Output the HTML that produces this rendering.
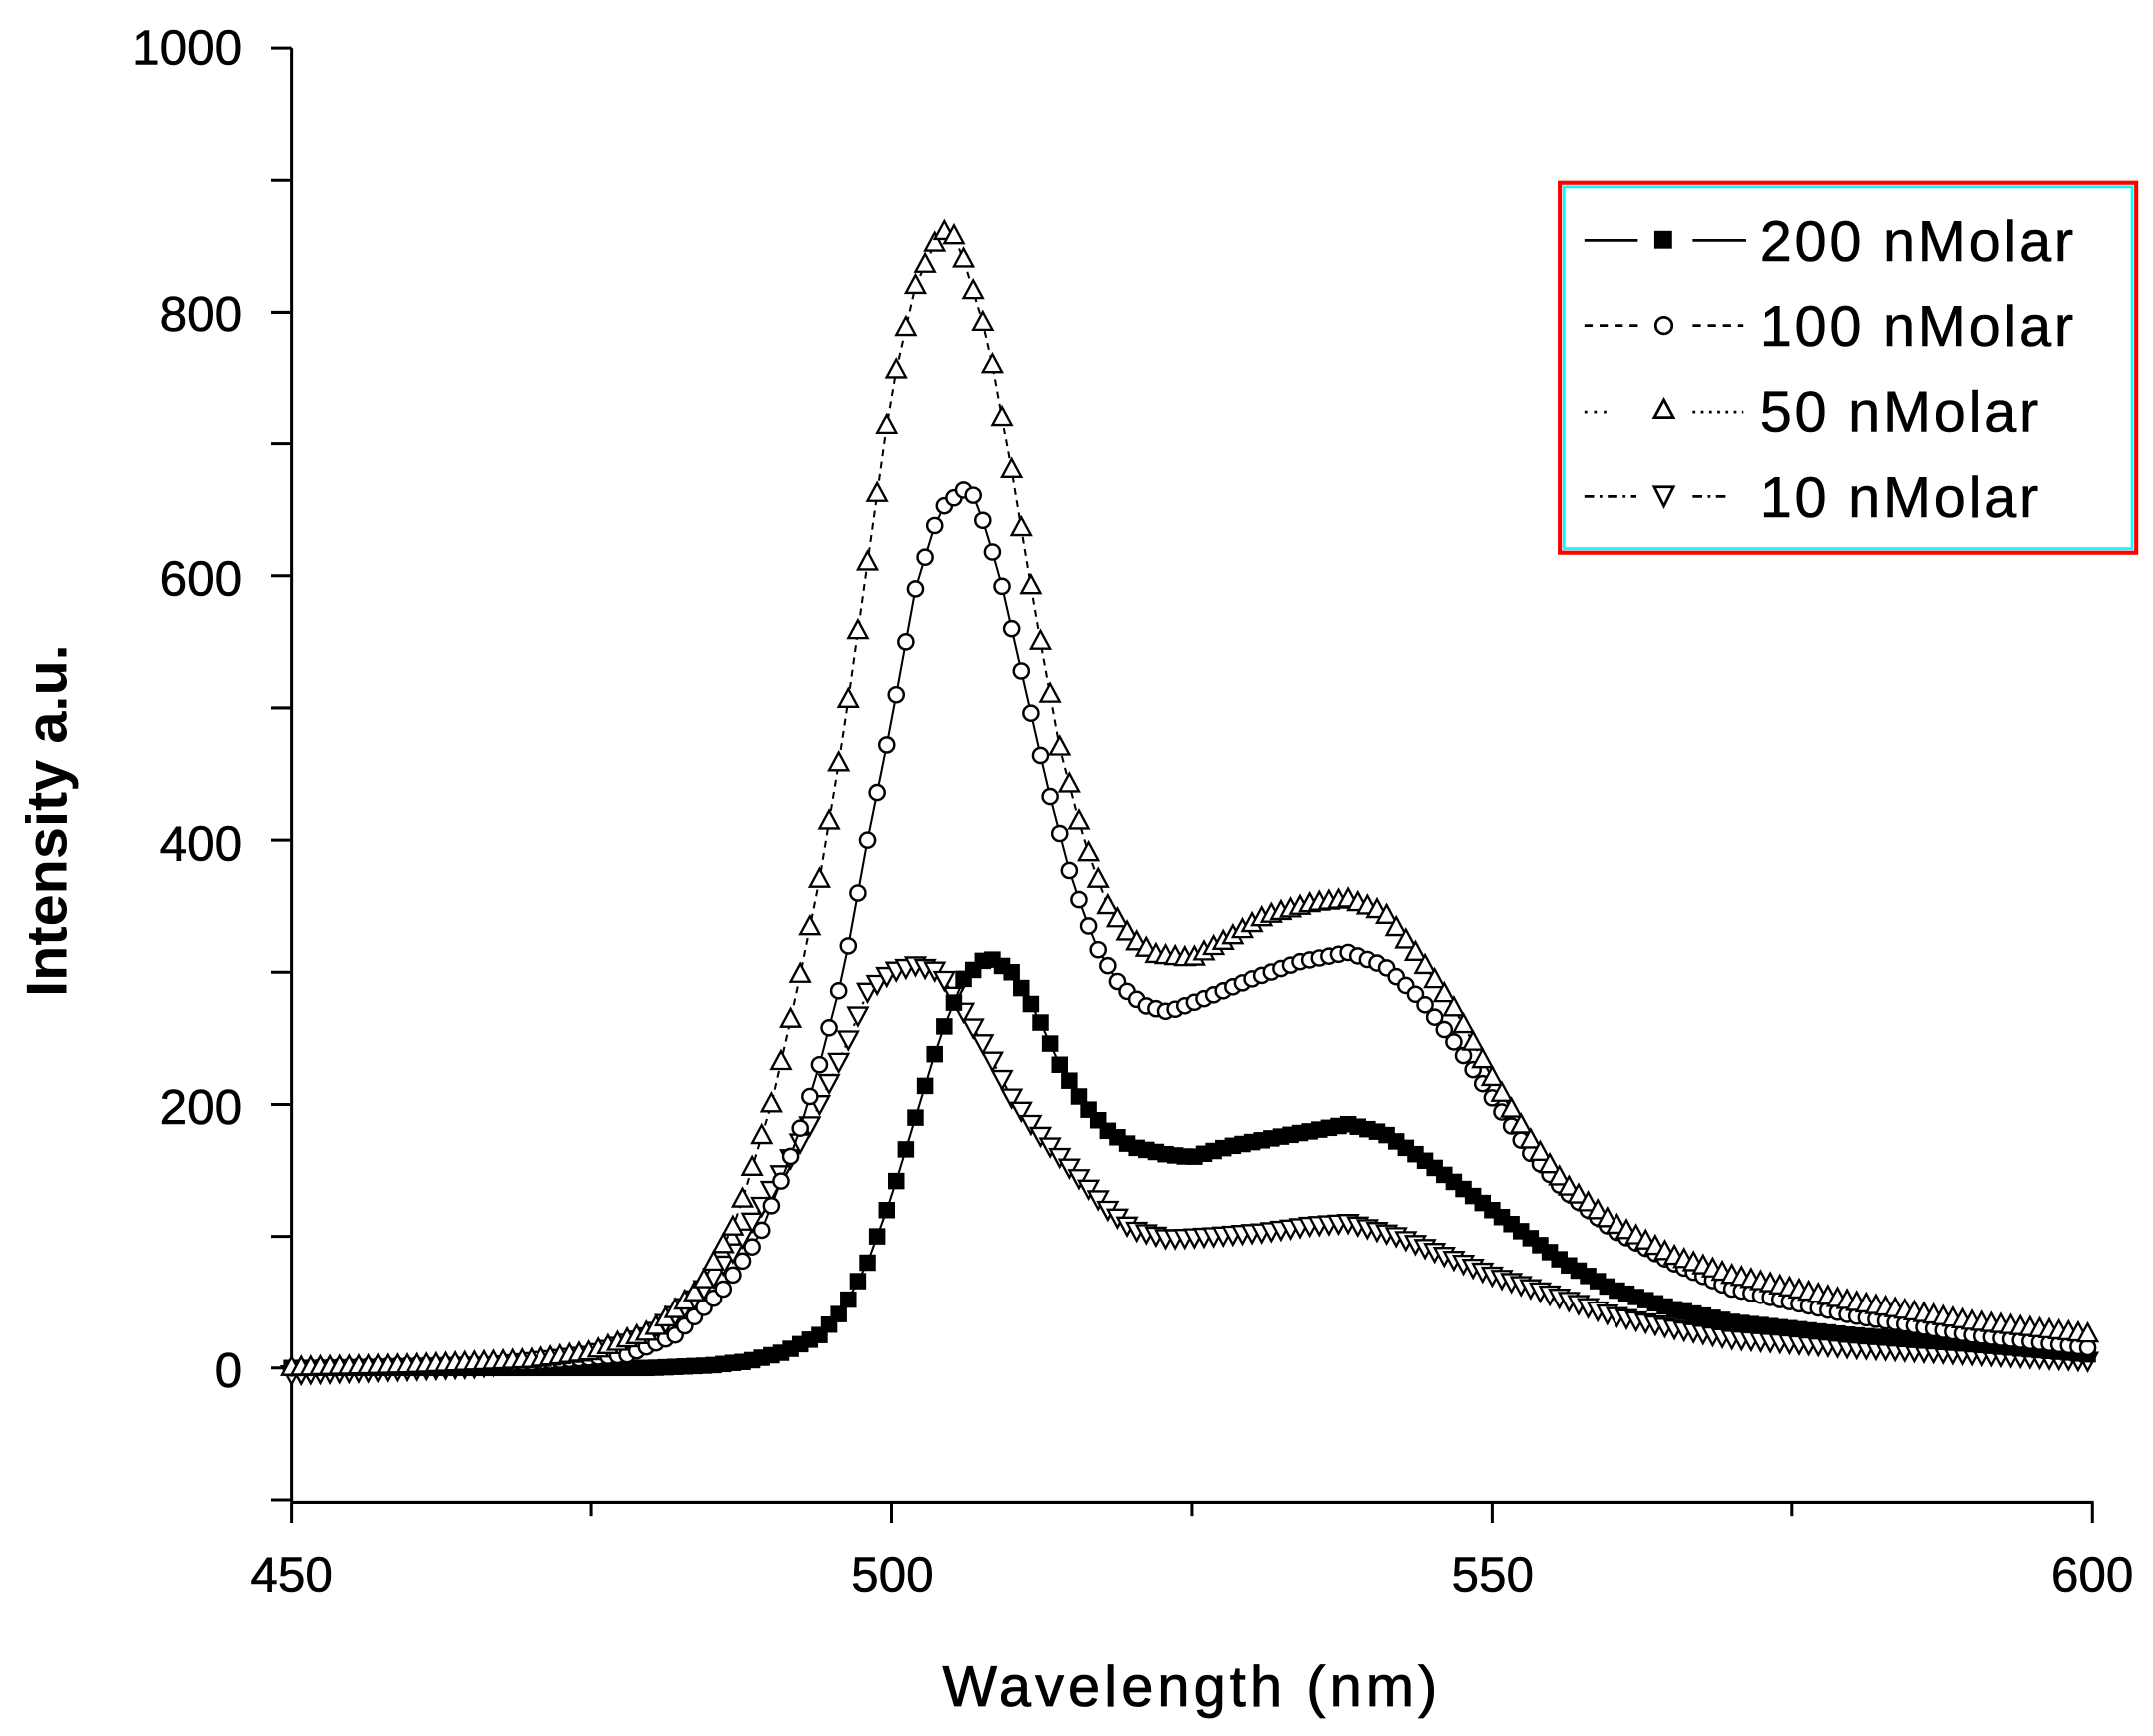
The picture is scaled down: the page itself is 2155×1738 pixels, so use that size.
<!DOCTYPE html>
<html><head><meta charset="utf-8"><style>
html,body{margin:0;padding:0;background:#fff;}
svg{display:block;}
text{font-family:"Liberation Sans",Arial,sans-serif;fill:#000;}
</style></head><body>
<svg id="s" width="2155" height="1738" viewBox="0 0 1568 1265" xmlns="http://www.w3.org/2000/svg">
<rect width="1568" height="1265" fill="#fff"/>
<g stroke="#000" stroke-width="2.2" fill="none">
<line x1="212" y1="35" x2="212" y2="1095"/>
<line x1="212" y1="1095" x2="1525" y2="1095"/>
</g>
<g id="ticks" stroke="#000" stroke-width="2.2"></g>
<g font-size="36" text-anchor="end" stroke="#000" stroke-width="0.4">
<text x="176" y="47">1000</text>
<text x="176" y="241">800</text>
<text x="176" y="434">600</text>
<text x="176" y="627">400</text>
<text x="176" y="819">200</text>
<text x="176" y="1011">0</text>
</g>
<g font-size="36" text-anchor="middle" stroke="#000" stroke-width="0.4">
<text x="212" y="1160">450</text>
<text x="650" y="1160">500</text>
<text x="1087" y="1160">550</text>
<text x="1524" y="1160">600</text>
</g>
<text x="868" y="1243" font-size="42" text-anchor="middle" letter-spacing="3" stroke="#000" stroke-width="0.6">Wavelength (nm)</text>
<text transform="translate(48,598) rotate(-90)" font-size="42" font-weight="bold" text-anchor="middle">Intensity a.u.</text>
<g id="data"></g>
<rect x="1136" y="133" width="420" height="270" fill="#fff" stroke="#f00" stroke-width="3"/>
<rect x="1139" y="136" width="414" height="264" fill="none" stroke="#0ff" stroke-width="2"/>
<g stroke="#000" stroke-width="2" fill="none">
<line x1="1154" y1="175" x2="1193" y2="175"/><line x1="1233" y1="175" x2="1272" y2="175"/>
<line x1="1154" y1="237" x2="1194" y2="237" stroke-dasharray="6,5"/><line x1="1233" y1="237" x2="1270" y2="237" stroke-dasharray="6,5"/>
<line x1="1154" y1="300" x2="1172" y2="300" stroke-dasharray="2,5"/><line x1="1233" y1="300" x2="1270" y2="300" stroke-dasharray="2,4"/>
<line x1="1154" y1="362" x2="1192" y2="362" stroke-dasharray="7,4,2,4"/><line x1="1233" y1="362" x2="1258" y2="362" stroke-dasharray="7,4,2,4"/>
</g>
<rect x="1205" y="168" width="13" height="13" fill="#000"/>
<circle cx="1212" cy="237" r="6" fill="none" stroke="#000" stroke-width="2"/>
<path d="M1212 291 L1219 304 L1205 304 Z" fill="none" stroke="#000" stroke-width="2"/>
<path d="M1205 355 L1219 355 L1212 369 Z" fill="none" stroke="#000" stroke-width="2"/>
<g font-size="42" letter-spacing="2" stroke="#000" stroke-width="0.4">
<text x="1282" y="190">200 nMolar</text>
<text x="1282" y="252">100 nMolar</text>
<text x="1282" y="314">50 nMolar</text>
<text x="1282" y="377">10 nMolar</text>
</g>
</svg>
<script>
function X(w){return 212+(w-450)*8.747;}
function Y(v){return 997-v*0.962;}
var tk=document.getElementById("ticks"),h="";
for(var v=-100;v<=1000;v+=100){h+='<line x1="197" y1="'+Y(v)+'" x2="212" y2="'+Y(v)+'"/>';}
for(var w=450;w<=600;w+=25){h+='<line x1="'+X(w)+'" y1="1095" x2="'+X(w)+'" y2="'+(w%50==0?1110:1105)+'"/>';}
tk.innerHTML=h;
var S50=[[450,0],[460,2],[470,6],[475,12],[480,28],[484,60],[487,110],[490,200],[492,280],[494,370],[496,480],[498,610],[500,740],[502,820],[504,860],[505,862],[506,840],[508,780],[510,680],[512,570],[514,470],[516,400],[518,350],[520,325],[522,313],[525,310],[528,325],[531,342],[535,352],[538,355],[541,345],[544,310],[547,270],[550,220],[553,175],[556,140],[560,110],[565,85],[570,70],[580,50],[590,35],[600,25]];
var S100=[[450,0],[470,4],[478,10],[482,25],[486,60],[489,100],[492,170],[494,230],[496,300],[498,400],[500,490],[502,590],[504,650],[506,665],[507,660],[509,600],[511,520],[513,440],[515,370],[517,320],[519,290],[521,275],[523,270],[526,280],[530,295],[534,308],[538,315],[541,305],[544,280],[547,245],[550,205],[553,165],[556,135],[560,105],[565,80],[570,60],[580,40],[590,25],[600,15]];
var S10=[[450,-5],[465,0],[475,10],[480,25],[484,55],[487,90],[490,135],[493,180],[496,240],[498,285],[500,300],[502,305],[504,300],[506,270],[508,240],[510,205],[512,180],[515,150],[518,120],[520,105],[523,98],[527,100],[531,103],[535,108],[538,110],[542,100],[546,85],[550,70],[555,55],[560,40],[565,30],[570,22],[580,15],[590,10],[600,5]];
var S200=[[450,0],[480,0],[485,2],[488,5],[491,12],[494,25],[496,45],[498,80],[500,130],[502,190],[504,250],[506,295],[508,312],[510,300],[512,270],[514,230],[516,200],[518,180],[520,168],[523,162],[525,160],[528,168],[532,175],[535,180],[538,185],[541,178],[544,160],[547,140],[550,120],[553,100],[556,80],[560,60],[565,45],[570,35],[580,25],[590,18],[600,10]];
function interp(a,w){for(var i=0;i<a.length-1;i++){if(w<=a[i+1][0]){var t=(w-a[i][0])/(a[i+1][0]-a[i][0]);return a[i][1]+t*(a[i+1][1]-a[i][1]);}}return a[a.length-1][1];}
var out="";
function series(a,type,dash){
  var pts=[],m="";
  for(var w=450;w<=600.01;w+=0.8){var x=X(w),y=Y(interp(a,w));pts.push(x.toFixed(1)+","+y.toFixed(1));
    if(type=="sq")m+='<rect x="'+(x-6).toFixed(1)+'" y="'+(y-6).toFixed(1)+'" width="12" height="12" fill="#000"/>';
    else if(type=="ci")m+='<circle cx="'+x.toFixed(1)+'" cy="'+y.toFixed(1)+'" r="5.5" fill="#fff" stroke="#000" stroke-width="1.8"/>';
    else if(type=="up")m+='<path d="M'+x.toFixed(1)+' '+(y-8).toFixed(1)+'l7 13h-14z" fill="#fff" stroke="#000" stroke-width="1.7"/>';
    else m+='<path d="M'+(x-7).toFixed(1)+' '+(y-6).toFixed(1)+'h14l-7 13z" fill="#fff" stroke="#000" stroke-width="1.7"/>';
  }
  out+='<polyline points="'+pts.join(" ")+'" fill="none" stroke="#000" stroke-width="1.5"'+(dash?' stroke-dasharray="'+dash+'"':'')+'/>'+m;
}
series(S10,"dn","7,4,2,4");
series(S200,"sq","");
series(S100,"ci","");
series(S50,"up","5,4");
document.getElementById("data").innerHTML=out;
</script>
</body></html>
